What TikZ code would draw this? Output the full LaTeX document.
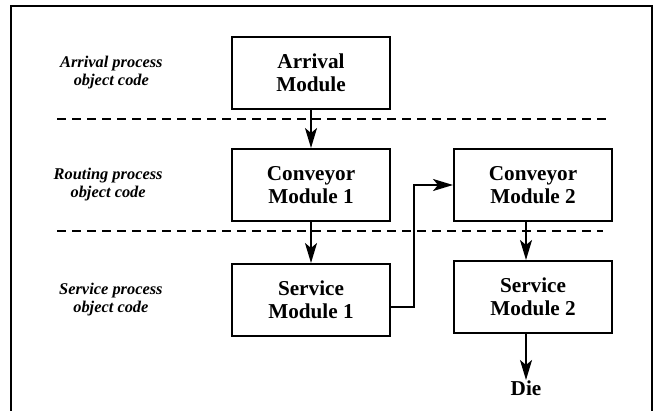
\documentclass[tikz,border=0pt]{standalone}
\usepackage{fontspec}
\setmainfont{Liberation Serif}
\usetikzlibrary{arrows.meta,positioning}
\definecolor{flowink}{HTML}{000000}
\tikzset{
  modbox/.style={draw=flowink, line width=1pt, align=center, font=\fontsize{10.6}{11.5}\selectfont\bfseries,
    minimum width=79pt, minimum height=36pt, inner sep=2pt},
  lbl/.style={align=center, font=\fontsize{8.2}{9}\selectfont\bfseries\itshape, inner sep=0pt},
  sep/.style={draw=flowink, line width=1pt, dash pattern=on 4.5pt off 3pt},
  arr/.style={-{Stealth[length=10pt, width=6pt, inset=2.5pt]}, line width=1pt, color=flowink},
}
\begin{document}
\begin{tikzpicture}[x=0.5pt, y=-0.5pt, node distance=19pt]
      \useasboundingbox (0,0) rectangle (662,411);
      \clip (0,0) rectangle (662,411);
      \draw[line width=1pt] (11,430) -- (11,6) -- (652,6) -- (652,430);
      % modules
      \node[modbox] (arr) at (311,73) {Arrival\\Module};
      \node[modbox, below=of arr] (c1) {Conveyor\\Module 1};
      \node[modbox, below=20.5pt of c1] (s1) {Service\\Module 1};
      \node[modbox, right=31pt of c1] (c2) {Conveyor\\Module 2};
      \node[modbox, below=of c2] (s2) {Service\\Module 2};
      \node[modbox, draw=none, minimum width=0pt, minimum height=0pt, inner sep=0pt, below=23pt of s2, xshift=-3.5pt] (die) {Die};
      % process labels
      \node[lbl, left=34pt of arr] (la) {Arrival process\\object code};
      \node[lbl, left=34pt of c1] (lr) {Routing process\\object code};
      \node[lbl, left=34pt of s1] (ls) {Service process\\object code};
      % separators
      \draw[sep] (57,119) -- (607,119);
      \draw[sep] (57,231) -- (603,231);
      % flow
      \draw[arr] (arr) -- (c1); \draw[arr] (c1) -- (s1);
      \draw[arr] ([yshift=-3.5pt]s1.east) -- ++(11.5pt,0) |- (c2.west);
      \draw[arr] (c2.south -| die) -- (s2.north -| die);
      \draw[arr] (s2.south -| die) -- (die);
    \end{tikzpicture}
\end{document}
